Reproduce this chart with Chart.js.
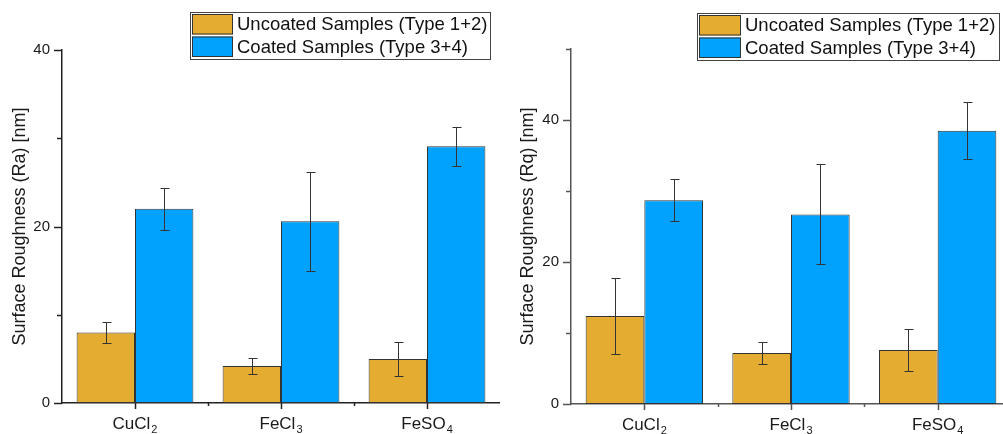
<!DOCTYPE html>
<html><head><meta charset="utf-8">
<script src="https://cdn.jsdelivr.net/npm/chart.js@4.4.0/dist/chart.umd.min.js"></script>
<style>
html,body{margin:0;padding:0;background:#fff;overflow:hidden;width:1003px;height:434px;}
#w1{position:absolute;left:0;top:0;width:500px;height:434px;}
#w2{position:absolute;left:500px;top:0;width:511px;height:434px;}
</style></head><body>
<div id="w1"><canvas id="c1" width="500" height="434"></canvas></div>
<div id="w2"><canvas id="c2" width="511" height="434"></canvas></div>
<script>
// ---- data ----
const categories = ['CuCl₂', 'FeCl₃', 'FeSO₄'];
const seriesNames = ['Uncoated Samples (Type 1+2)', 'Coated Samples (Type 3+4)'];
const raUncoated = [8.0, 4.2, 5.0];
const raUncoatedErr = [1.2, 0.9, 1.95];
const raCoated = [22.0, 20.6, 29.1];
const raCoatedErr = [2.4, 5.6, 2.2];
const rqUncoated = [12.4, 7.2, 7.6];
const rqUncoatedErr = [5.35, 1.55, 3.0];
const rqCoated = [28.7, 26.7, 38.5];
const rqCoatedErr = [2.95, 7.05, 4.0];
const raTickLabels = [0, 20, 40];
const rqTickLabels = [0, 20, 40];

const GOLD = '#E4AD32';
const BLUE = '#00A2FD';
const FONT = '"Liberation Sans", Arial, sans-serif';
Chart.defaults.font.family = FONT;

const subMap = {'₀':'0','₁':'1','₂':'2','₃':'3','₄':'4','₅':'5','₆':'6','₇':'7','₈':'8','₉':'9'};

function drawSubText(ctx, text, cx, baseY, size, color) {
  const segs = [];
  for (const ch of text) {
    const sub = subMap[ch] !== undefined;
    const c = sub ? subMap[ch] : ch;
    if (segs.length && segs[segs.length - 1].sub === sub) segs[segs.length - 1].t += c;
    else segs.push({t: c, sub});
  }
  const subSize = Math.round(size * 0.62);
  let total = 0;
  segs.forEach(s => {
    ctx.font = (s.sub ? subSize : size) + 'px ' + FONT;
    s.w = ctx.measureText(s.t).width;
    total += s.w + (s.sub ? 1 : 0);
  });
  let x = cx - total / 2;
  ctx.fillStyle = color;
  ctx.textAlign = 'left';
  ctx.textBaseline = 'alphabetic';
  segs.forEach(s => {
    ctx.font = (s.sub ? subSize : size) + 'px ' + FONT;
    if (s.sub) x += 1;
    ctx.fillText(s.t, x, baseY + (s.sub ? 4 : 0));
    x += s.w;
  });
}

const decorPlugin = {
  id: 'decor',
  afterDatasetsDraw(chart, args, o) {
    const ctx = chart.ctx, y = chart.scales.y;
    ctx.save();
    ctx.strokeStyle = o.errColor;
    ctx.lineWidth = 1;
    chart.data.datasets.forEach((ds, di) => {
      const meta = chart.getDatasetMeta(di);
      meta.data.forEach((bar, i) => {
        const v = ds.data[i], e = ds.errors[i];
        const px = Math.round(bar.x) + 0.5;
        const yt = Math.round(y.getPixelForValue(v + e)) + 0.5;
        const yb = Math.round(y.getPixelForValue(v - e)) + 0.5;
        ctx.beginPath();
        ctx.moveTo(px, yt); ctx.lineTo(px, yb);
        ctx.moveTo(px - 4, yt); ctx.lineTo(px + 5, yt);
        ctx.moveTo(px - 4, yb); ctx.lineTo(px + 5, yb);
        ctx.stroke();
      });
    });
    ctx.restore();
  },
  afterDraw(chart, args, o) {
    const ctx = chart.ctx, x = chart.scales.x, y = chart.scales.y;
    const area = chart.chartArea;
    ctx.save();
    ctx.strokeStyle = o.axisColor;
    ctx.lineWidth = 1.5;
    // y ticks
    y.ticks.forEach(t => {
      const py = Math.round(y.getPixelForValue(t.value)) + 0.5;
      const major = o.tickLabels.includes(t.value);
      const len = major ? 8 : 5;
      ctx.beginPath();
      ctx.moveTo(area.left - len, py); ctx.lineTo(area.left, py);
      ctx.stroke();
    });
    // x ticks
    const n = chart.data.labels.length;
    for (let i = 0; i < n; i++) {
      const px = Math.round(x.getPixelForValue(i)) + 0.5;
      ctx.beginPath();
      ctx.moveTo(px, area.bottom); ctx.lineTo(px, area.bottom + 6);
      ctx.stroke();
      if (i < n - 1) {
        const mx = Math.round((x.getPixelForValue(i) + x.getPixelForValue(i + 1)) / 2) + 0.5;
        ctx.beginPath();
        ctx.moveTo(mx, area.bottom); ctx.lineTo(mx, area.bottom + 3);
        ctx.stroke();
      }
    }
    // x labels
    chart.data.labels.forEach((lab, i) => {
      drawSubText(ctx, lab, x.getPixelForValue(i), o.labelBase, 17, '#1a1a1a');
    });
    // legend
    const L = o.legend;
    ctx.lineWidth = 1;
    ctx.strokeStyle = '#444';
    ctx.strokeRect(L.x + 0.5, L.y + 0.5, L.w, L.h);
    chart.data.datasets.forEach((ds, di) => {
      const sy = L.y + 2 + di * 22.5;
      ctx.fillStyle = ds.backgroundColor;
      ctx.fillRect(L.x + 2, sy, L.sw, 20.5);
      ctx.strokeStyle = '#333';
      ctx.strokeRect(L.x + 2.5, sy + 0.5, L.sw - 1, 19.5);
      ctx.fillStyle = '#111';
      ctx.font = '18.5px ' + FONT;
      ctx.textAlign = 'left';
      ctx.textBaseline = 'middle';
      ctx.fillText(ds.label, L.x + L.sw + 6, sy + 11);
    });
    ctx.restore();
  }
};

function makeChart(id, cfg) {
  return new Chart(document.getElementById(id), {
    type: 'bar',
    data: {
      labels: categories,
      datasets: [
        {label: seriesNames[0], data: cfg.unc, errors: cfg.uncErr, backgroundColor: GOLD,
         borderColor: '#333', borderWidth: 1, borderSkipped: false},
        {label: seriesNames[1], data: cfg.coa, errors: cfg.coaErr, backgroundColor: BLUE,
         borderColor: '#333', borderWidth: 1, borderSkipped: false}
      ]
    },
    options: {
      responsive: false,
      animation: false,
      devicePixelRatio: 1,
      layout: {padding: {top: cfg.top, right: 0, bottom: 0, left: 0}},
      datasets: {bar: {categoryPercentage: 0.8, barPercentage: 1.0}},
      plugins: {
        legend: {display: false},
        tooltip: {enabled: false},
        decor: {errColor: '#333', axisColor: cfg.axisColor, tickLabels: cfg.tickLabels,
                labelBase: cfg.labelBase, legend: cfg.legend}
      },
      scales: {
        x: {
          grid: {display: false, drawTicks: false},
          border: {display: true, color: cfg.axisColor, width: 1.5},
          ticks: {display: false},
          afterFit: s => { s.height = cfg.xh; }
        },
        y: {
          min: 0, max: cfg.yMax,
          grid: {display: false, drawTicks: false},
          border: {display: true, color: cfg.axisColor, width: 1.5},
          ticks: {
            stepSize: 10, padding: 12, color: '#1a1a1a', font: {size: 15},
            callback: v => cfg.tickLabels.includes(v) ? String(v) : ''
          },
          title: {display: true, text: cfg.yTitle, color: '#1a1a1a', font: {size: 18},
                  padding: {top: cfg.titlePad, bottom: 0}},
          afterFit: s => { s.width = cfg.yw; }
        }
      }
    },
    plugins: [decorPlugin]
  });
}

makeChart('c1', {
  unc: raUncoated, uncErr: raUncoatedErr, coa: raCoated, coaErr: raCoatedErr,
  yMax: 40, tickLabels: raTickLabels, yTitle: 'Surface Roughness (Ra) [nm]',
  top: 50, yw: 62, xh: 31, titlePad: 9, axisColor: '#222', labelBase: 428.5,
  legend: {x: 190, y: 12, w: 300, h: 47, sw: 41}
});
makeChart('c2', {
  unc: rqUncoated, uncErr: rqUncoatedErr, coa: rqCoated, coaErr: rqCoatedErr,
  yMax: 50, tickLabels: rqTickLabels, yTitle: 'Surface Roughness (Rq) [nm]',
  top: 49, yw: 71, xh: 30, titlePad: 17, axisColor: '#555', labelBase: 430,
  legend: {x: 197, y: 13, w: 302, h: 47, sw: 42}
});
</script>
</body></html>
